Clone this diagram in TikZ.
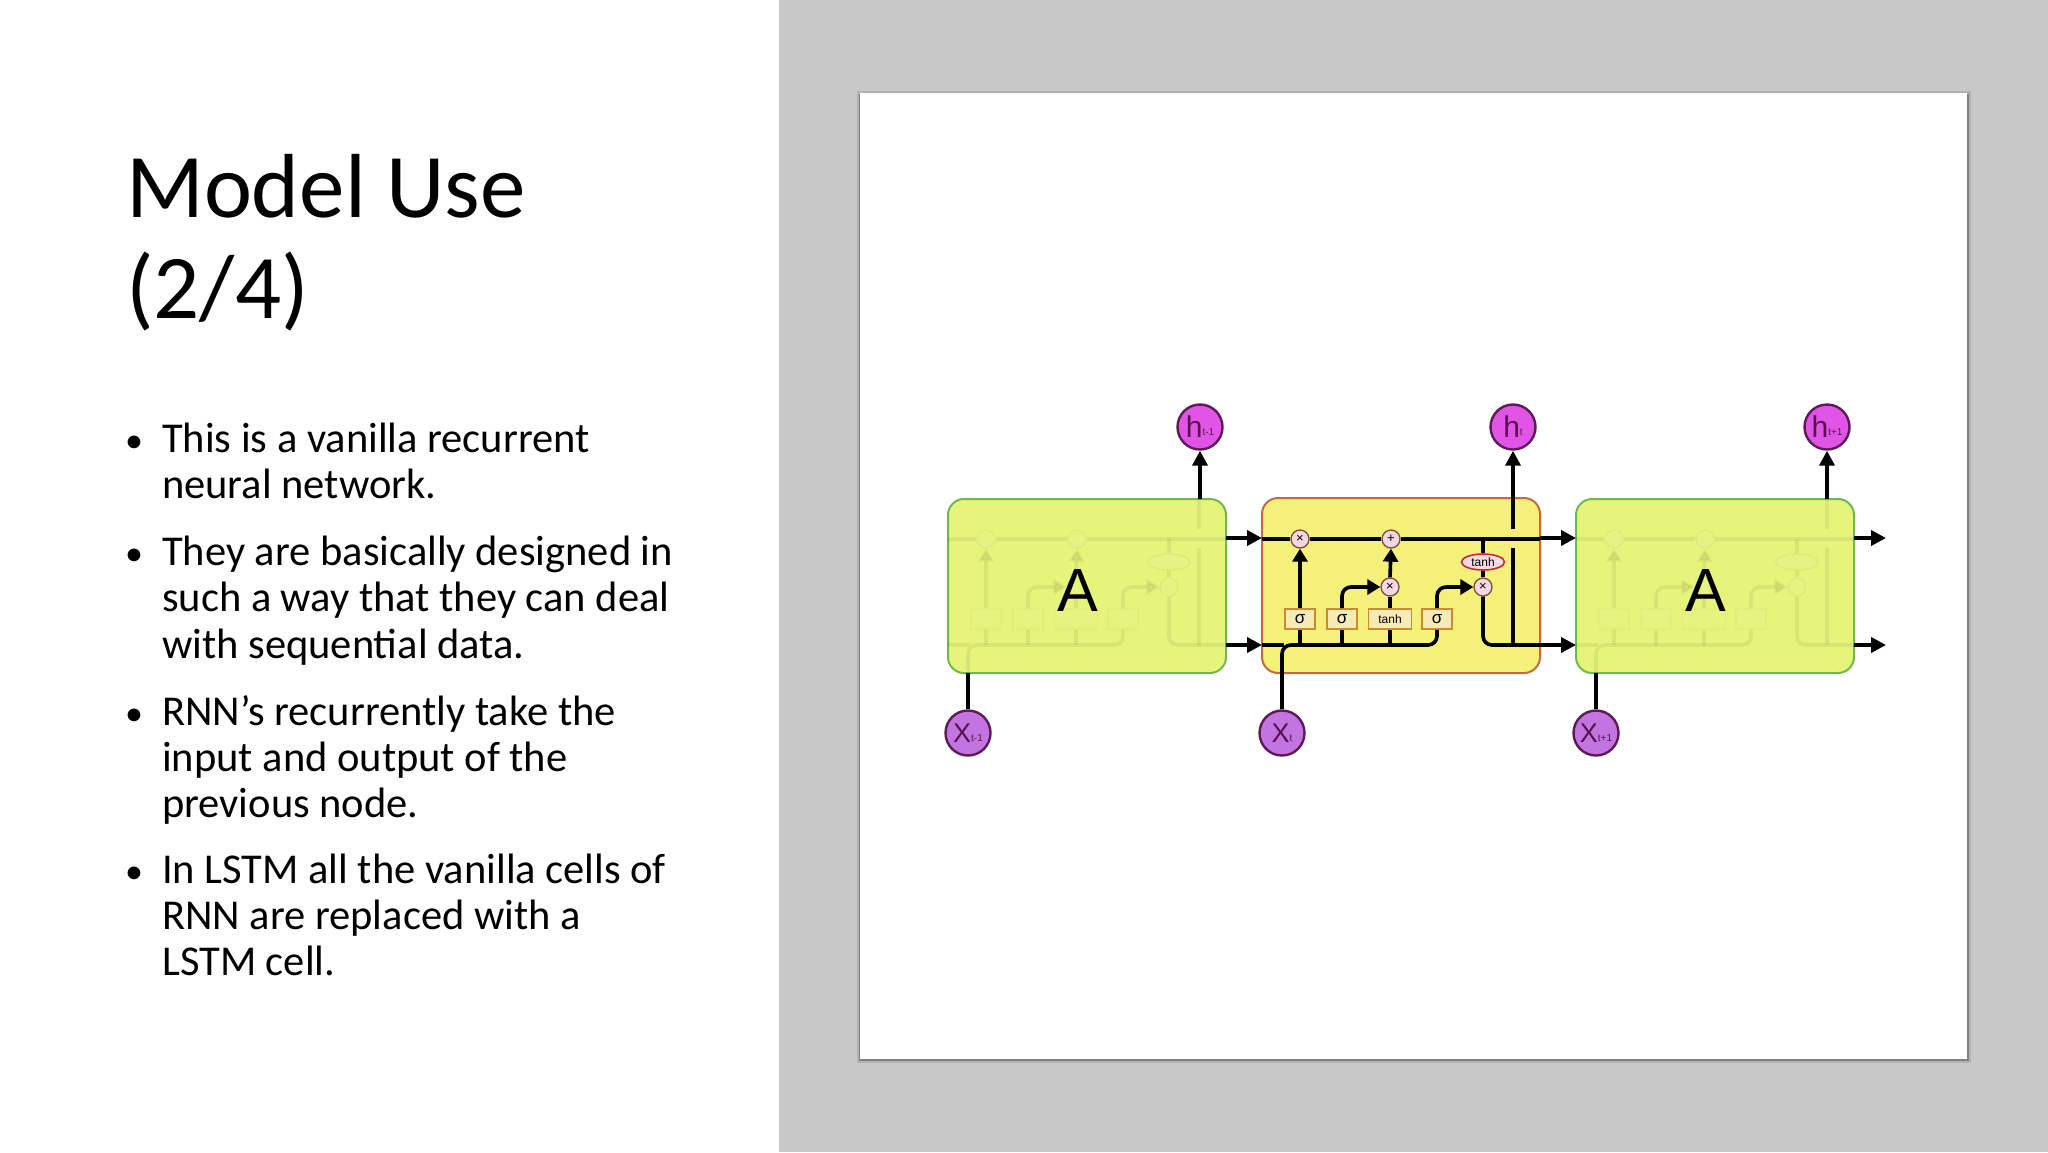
\documentclass[tikz,border=0pt]{standalone}
\usepackage{fontspec}
\setmainfont{Carlito}
\newfontfamily\arialf{Liberation Sans}
\usetikzlibrary{arrows.meta,shapes.geometric}
\definecolor{panelgray}{HTML}{C8C8C8}
\definecolor{cellA}{HTML}{E6F47C}
\definecolor{cellAb}{HTML}{6DBA4E}
\definecolor{cellM}{HTML}{F4F07A}
\definecolor{cellMb}{HTML}{C56A3C}
\definecolor{hfill}{HTML}{E055E6}
\definecolor{xfill}{HTML}{C275E0}
\definecolor{circb}{HTML}{5E1A55}
\definecolor{labc}{HTML}{5A0F4C}
\definecolor{gatef}{HTML}{F7EBB5}
\definecolor{gateb}{HTML}{D08A2E}
\definecolor{mulf}{HTML}{F5D7E2}
\definecolor{mulb}{HTML}{7A4A3A}
\definecolor{tanhf}{HTML}{F5DCE4}
\definecolor{tanhb}{HTML}{C8283A}
\newcommand\gl[1]{#1}
\newcommand\innercell[1]{%
  \node[mulnode] (#1m1) at (1300,539) {\gl{×}};
  \node[mulnode] (#1add) at (1391,539) {\gl{+}};
  \node[mulnode] (#1m2) at (1390,587) {\gl{×}};
  \node[mulnode] (#1m3) at (1483,587) {\gl{×}};
  \node[tanhell] (#1th) at (1483,562) {\gl{tanh}};
  \node[gatebox] (#1s1) at (1300,619) {\gl{σ}};
  \node[gatebox] (#1s2) at (1342,619) {\gl{σ}};
  \node[gatebox,minimum width=43pt,font=\arialf\fontsize{12}{12}\selectfont] (#1tb) at (1390,619) {\gl{tanh}};
  \node[gatebox] (#1s3) at (1437,619) {\gl{σ}};
  \draw[wire] (1262,539) -- (#1m1.west);
  \draw[wire] (#1m1.east) -- (#1add.west);
  \draw[wire] (#1add.east) -- (1540,539);
  \draw[wire] (1262,645) -- (1284,645);
  \draw[wire,rounded corners=9] (1282,673) |- (1437,645) -- (#1s3.south);
  \draw[wire] (1300,645) -- (#1s1.south);
  \draw[wire] (1342,645) -- (#1s2.south);
  \draw[wire] (1390,645) -- (#1tb.south);
  \draw[wire,arr] (#1s1.north) -- (#1m1.south);
  \draw[wire,arr,rounded corners=9] (#1s2.north) |- (#1m2.west);
  \draw[wire] (#1tb.north) -- (#1m2.south);
  \draw[wire,arr] (#1m2.north) -- (#1add.south);
  \draw[wire,arr,rounded corners=9] (#1s3.north) |- (#1m3.west);
  \draw[wire] (1483,539) -- (#1th.north);
  \draw[wire] (#1th.south) -- (#1m3.north);
  \draw[wire,rounded corners=9] (#1m3.south) |- (1540,645);
  \draw[wire] (1513,645) -- (1513,548);
  \draw[wire] (1513,529) -- (1513,498);
}
\begin{document}
\begin{tikzpicture}[x=1pt,y=-1pt,
  wire/.style={line width=3.6pt,black},
  link/.style={line width=4pt,black},
  arr/.style={-{Triangle[length=13pt,width=15pt]}},
  bigarr/.style={-{Triangle[length=15pt,width=15pt]}},
  mulnode/.style={circle,draw=mulb,fill=mulf,line width=1.3pt,minimum size=18pt,inner sep=0pt,font=\arialf\fontsize{13}{13}\selectfont},
  gatebox/.style={rectangle,draw=gateb,fill=gatef,line width=1.6pt,minimum width=30pt,minimum height=20pt,inner sep=0pt,font=\arialf\fontsize{17}{17}\selectfont},
  tanhell/.style={ellipse,draw=tanhb,fill=tanhf,line width=1.6pt,minimum width=43pt,minimum height=16pt,inner sep=0pt,font=\arialf\fontsize{12}{12}\selectfont},
  abox/.style={draw=cellAb,fill=cellA,line width=2pt,rounded corners=16pt},
  mbox/.style={draw=cellMb,fill=cellM,line width=2pt,rounded corners=16pt},
  hcirc/.style={circle,draw=circb,fill=hfill,line width=2.4pt,minimum size=45pt,inner sep=0pt,text=labc,font=\arialf},
  xcirc/.style={circle,draw=circb,fill=xfill,line width=2.4pt,minimum size=45pt,inner sep=0pt,text=labc,font=\arialf},
  titletext/.style={anchor=base west,inner sep=0pt,font=\fontsize{91}{101}\selectfont},
  bodytext/.style={anchor=base west,inner sep=0pt,font=\fontsize{42.5}{46}\selectfont},
  bullettext/.style={anchor=base west,inner sep=0pt,font=\fontsize{36}{46}\selectfont},
  ghost/.style={opacity=0.06}
]
\useasboundingbox (0,0) rectangle (2048,1152);
% background
\fill[white] (0,0) rectangle (2048,1152);
\fill[panelgray] (779,0) rectangle (2048,1152);
\fill[black!30] (857,91) rectangle (1971,1063);
\fill[black!50] (859,94) rectangle (1969,1061);
\fill[white] (860,93) rectangle (1967,1059);
% title
\node[titletext] (t1) at (126,217) {Model Use};
\node[titletext] (t2) at (126,318) {(2/4)};
% bullets
\foreach \y/\nm in {452/d1,565/d2,725/d3,883/d4}
  \node[bullettext] (\nm) at (125,\y) {•};
\node[bodytext] (b1a) at (162,452) {This is a vanilla recurrent};
\node[bodytext] (b1b) at (162,498) {neural network.};
\node[bodytext] (b2a) at (162,565) {They are basically designed in};
\node[bodytext] (b2b) at (162,611) {such a way that they can deal};
\node[bodytext] (b2c) at (162,658) {with sequential data.};
\node[bodytext] (b3a) at (162,725) {RNN’s recurrently take the};
\node[bodytext] (b3b) at (162,771) {input and output of the};
\node[bodytext] (b3c) at (162,817) {previous node.};
\node[bodytext] (b4a) at (162,883) {In LSTM all the vanilla cells of};
\node[bodytext] (b4b) at (162,929) {RNN are replaced with a};
\node[bodytext] (b4c) at (162,975) {LSTM cell.};
% ---------- cells
\path[abox] (948,499) rectangle (1226,673);
\begin{scope}[xshift=-314pt,ghost]\renewcommand\gl[1]{}\innercell{l}\end{scope}
\node[font=\arialf\fontsize{61}{61}\selectfont,inner sep=0pt] (Aleft) at (1078,591) {A};
\path[abox] (1576,499) rectangle (1854,673);
\begin{scope}[xshift=314pt,ghost]\renewcommand\gl[1]{}\innercell{r}\end{scope}
\node[font=\arialf\fontsize{61}{61}\selectfont,inner sep=0pt] (Aright) at (1706,591) {A};
\path[mbox] (1262,498) rectangle (1540,673);
\innercell{c}
% outer circles
\node[hcirc] (hp) at (1200,427) {\fontsize{30}{30}\selectfont h\raisebox{2pt}{\fontsize{10}{10}\selectfont t-1}};
\node[hcirc] (hc) at (1513,427) {\fontsize{30}{30}\selectfont h\raisebox{2pt}{\fontsize{10}{10}\selectfont t}};
\node[hcirc] (hn) at (1827,427) {\fontsize{30}{30}\selectfont h\raisebox{2pt}{\fontsize{10}{10}\selectfont t+1}};
\node[xcirc] (xp) at (968,733) {\fontsize{27}{27}\selectfont X\raisebox{1pt}{\fontsize{10}{10}\selectfont t-1}};
\node[xcirc] (xc) at (1282,733) {\fontsize{27}{27}\selectfont X\raisebox{1pt}{\fontsize{10}{10}\selectfont t}};
\node[xcirc] (xn) at (1596,733) {\fontsize{27}{27}\selectfont X\raisebox{1pt}{\fontsize{10}{10}\selectfont t+1}};
\coordinate (hpb) at (1200,499);
\coordinate (hcb) at (1513,498);
\coordinate (hnb) at (1827,499);
\coordinate (xpb) at (968,673);
\coordinate (xcb) at (1282,673);
\coordinate (xnb) at (1596,673);
\draw[link,bigarr] (hpb) -- (hp.south);
\draw[link,bigarr] (hcb) -- (hc.south);
\draw[link,bigarr] (hnb) -- (hn.south);
\draw[link] (xp.north) -- (xpb);
\draw[link] (xc.north) -- (xcb);
\draw[link] (xn.north) -- (xnb);
% links between cells
\coordinate (lt) at (1226,538); \coordinate (lb) at (1226,645);
\coordinate (mt) at (1262,538); \coordinate (mb) at (1262,645);
\coordinate (mt2) at (1540,538); \coordinate (mb2) at (1540,645);
\coordinate (rt) at (1576,538); \coordinate (rb) at (1576,645);
\coordinate (rt2) at (1854,538); \coordinate (rb2) at (1854,645);
\coordinate (et) at (1886,538); \coordinate (eb) at (1886,645);
\draw[link,bigarr] (lt) -- (mt);
\draw[link,bigarr] (lb) -- (mb);
\draw[link,bigarr] (mt2) -- (rt);
\draw[link,bigarr] (mb2) -- (rb);
\draw[link,bigarr] (rt2) -- (et);
\draw[link,bigarr] (rb2) -- (eb);
\end{tikzpicture}
\end{document}
